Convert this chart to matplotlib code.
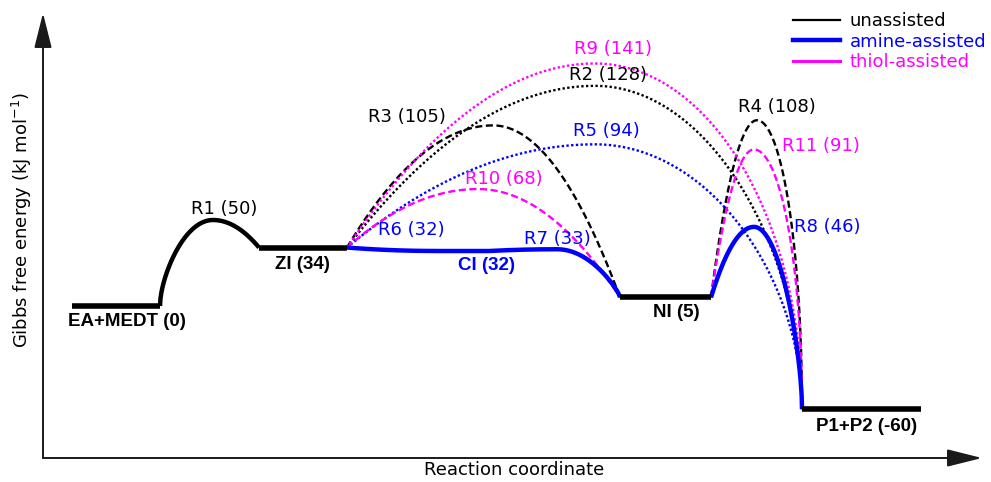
import numpy as np
import matplotlib.pyplot as plt
from matplotlib.lines import Line2D

# ---- data: Gibbs free energies (kJ/mol) ----
state_names = ['EA+MEDT', 'ZI', 'CI', 'NI', 'P1+P2']
state_energy = [0, 34, 32, 5, -60]

ts_names = ['R1', 'R2', 'R3', 'R4', 'R5', 'R6', 'R7', 'R8', 'R9', 'R10', 'R11']
ts_energy = [50, 128, 105, 108, 94, 32, 33, 46, 141, 68, 91]

# steps: (transition state, from, to)
unassisted_steps = [('R1', 'EA+MEDT', 'ZI'), ('R3', 'ZI', 'NI'),
                    ('R2', 'ZI', 'P1+P2'), ('R4', 'NI', 'P1+P2')]
amine_steps = [('R6', 'ZI', 'CI'), ('R7', 'CI', 'NI'),
               ('R5', 'ZI', 'P1+P2'), ('R8', 'NI', 'P1+P2')]
thiol_steps = [('R10', 'ZI', 'NI'), ('R9', 'ZI', 'P1+P2'), ('R11', 'NI', 'P1+P2')]

groups = ['unassisted', 'amine-assisted', 'thiol-assisted']

# ---- layout (pixels along the reaction coordinate) ----
W, H = 991, 482
Y0_PIX, PX_PER_KJ = 306, 1.72     # pixel row of 0 kJ/mol, scale
LEVEL_X = {'EA+MEDT': (72, 160), 'ZI': (259, 347), 'CI': (436, 490),
           'NI': (620, 711), 'P1+P2': (802, 921)}
PEAK_X = {'R1': 213, 'R2': 595, 'R3': 493, 'R4': 757, 'R5': 595, 'R6': 436,
          'R7': 557, 'R8': 754, 'R9': 595, 'R10': 478, 'R11': 754}
# curve shape of each half: 0 = parabola, 1 = ellipse
SHAPE = {'R1': (0.6, 0.0), 'R2': (0.0, 0.9), 'R3': (0.0, 0.0), 'R4': (0.0, 1.0),
         'R5': (0.0, 0.9), 'R6': (0.0, 0.0), 'R7': (0.0, 0.2), 'R8': (0.0, 0.55),
         'R9': (0.0, 1.0), 'R10': (0.0, 0.0), 'R11': (0.0, 1.0)}
STYLE = {'R2': (0, (1, 1)), 'R5': (0, (1, 1)), 'R9': (0, (1, 1)),
         'R3': (0, (3, 1.5)), 'R10': (0, (3, 1.5)), 'R4': (0, (3, 1.5)),
         'R11': (0, (3, 1.5))}
COLORS = {'unassisted': 'black', 'amine-assisted': '#0000ff', 'thiol-assisted': '#ff00ff'}
TS_LABEL_OFF = {'R1': (11, -11), 'R2': (13, -11), 'R3': (-86, -8), 'R4': (20, -13),
                'R5': (11, -13), 'R6': (-25, -21), 'R7': (0, -10), 'R8': (73, 0),
                'R9': (18, -14), 'R10': (26, -10), 'R11': (67, -3)}
STATE_LABEL_OFF = {'EA+MEDT': (11, 15), 'ZI': (-1, 17), 'CI': (24, 15),
                   'NI': (11, 15), 'P1+P2': (5, 17)}

plt.rcParams['font.family'] = ['DejaVu Sans']

E = dict(zip(state_names, state_energy))
TS = dict(zip(ts_names, ts_energy))


def half(t, k):
    # fraction dropped from the peak, t = 0 at peak, 1 at the end
    return (1 - k) * t ** 2 + k * (1 - np.sqrt(1 - t ** 2))


def barrier(ts, a, b):
    xa = LEVEL_X[a][1]
    xb = LEVEL_X[b][0]
    xp = PEAK_X[ts]
    ep = TS[ts]
    kl, kr = SHAPE[ts]
    xs, ys = [], []
    if xp > xa:
        x = np.linspace(xa, xp, 120)
        xs.append(x)
        ys.append(ep - (ep - E[a]) * half((xp - x) / (xp - xa), kl))
    if xb > xp:
        x = np.linspace(xp, xb, 160)
        xs.append(x)
        ys.append(ep - (ep - E[b]) * half((x - xp) / (xb - xp), kr))
    return np.concatenate(xs), np.concatenate(ys)


fig = plt.figure(figsize=(W / 100, H / 100), dpi=100)
ax = fig.add_axes([0, 0, 1, 1])
ax.set_xlim(0, W)
ax.set_ylim((Y0_PIX - H) / PX_PER_KJ, Y0_PIX / PX_PER_KJ)
ax.axis('off')

all_steps = [(s, 'unassisted') for s in unassisted_steps] + \
            [(s, 'amine-assisted') for s in amine_steps] + \
            [(s, 'thiol-assisted') for s in thiol_steps]

# dotted / dashed first, solid on top
for (ts, a, b), grp in all_steps:
    if ts in STYLE:
        x, y = barrier(ts, a, b)
        ax.plot(x, y, color=COLORS[grp], lw=1.7, ls=STYLE[ts])
for (ts, a, b), grp in all_steps:
    if ts not in STYLE:
        x, y = barrier(ts, a, b)
        ax.plot(x, y, color=COLORS[grp], lw=3.2, solid_capstyle='butt')

# energy levels
for name in state_names:
    x0, x1 = LEVEL_X[name]
    col = COLORS['amine-assisted'] if name == 'CI' else 'black'
    ax.plot([x0, x1], [E[name], E[name]], color=col,
            lw=3.2 if name == 'CI' else 4, solid_capstyle='butt')
    dx, dy = STATE_LABEL_OFF[name]
    ax.annotate(f'{name} ({E[name]})', xy=((x0 + x1) / 2, E[name]),
                xytext=(dx, -dy), textcoords='offset pixels',
                ha='center', va='center', fontsize=13.5, fontweight='bold',
                family='Liberation Sans', color=col)

# transition state labels
for (ts, a, b), grp in all_steps:
    dx, dy = TS_LABEL_OFF[ts]
    ax.annotate(f'{ts} ({TS[ts]})', xy=(PEAK_X[ts], TS[ts]),
                xytext=(dx, -dy), textcoords='offset pixels',
                ha='center', va='center', fontsize=13, color=COLORS[grp])

# axes with arrows
arrow = dict(arrowstyle='-|>,head_length=1.2,head_width=0.3', color='#1a1a1a',
             lw=1.4, mutation_scale=18, shrinkA=0, shrinkB=0)
ax.annotate('', xy=(43, H - 13), xytext=(43, H - 458), xycoords='figure pixels',
            textcoords='figure pixels', arrowprops=arrow)
ax.annotate('', xy=(982, H - 458), xytext=(43, H - 458), xycoords='figure pixels',
            textcoords='figure pixels', arrowprops=arrow)
fig.text(22 / W, 1 - 220 / H, 'Gibbs free energy (kJ mol$^{-1}$)', rotation=90,
         ha='center', va='center', fontsize=13)
fig.text(514 / W, 1 - 470 / H, 'Reaction coordinate', ha='center', va='center',
         fontsize=13)

# legend
handles = [Line2D([], [], color=COLORS['unassisted'], lw=1.6),
           Line2D([], [], color=COLORS['amine-assisted'], lw=3.2),
           Line2D([], [], color=COLORS['thiol-assisted'], lw=2.2)]
leg = ax.legend(handles, groups, loc='upper left', bbox_to_anchor=(793 / W, 1 - 12 / H),
                bbox_transform=fig.transFigure, frameon=False, fontsize=13,
                borderpad=0, borderaxespad=0, handlelength=2.6, handletextpad=0.55,
                labelspacing=0.15)
for txt, g in zip(leg.get_texts(), groups):
    txt.set_color(COLORS[g])

fig.savefig('out.png', dpi=100)
